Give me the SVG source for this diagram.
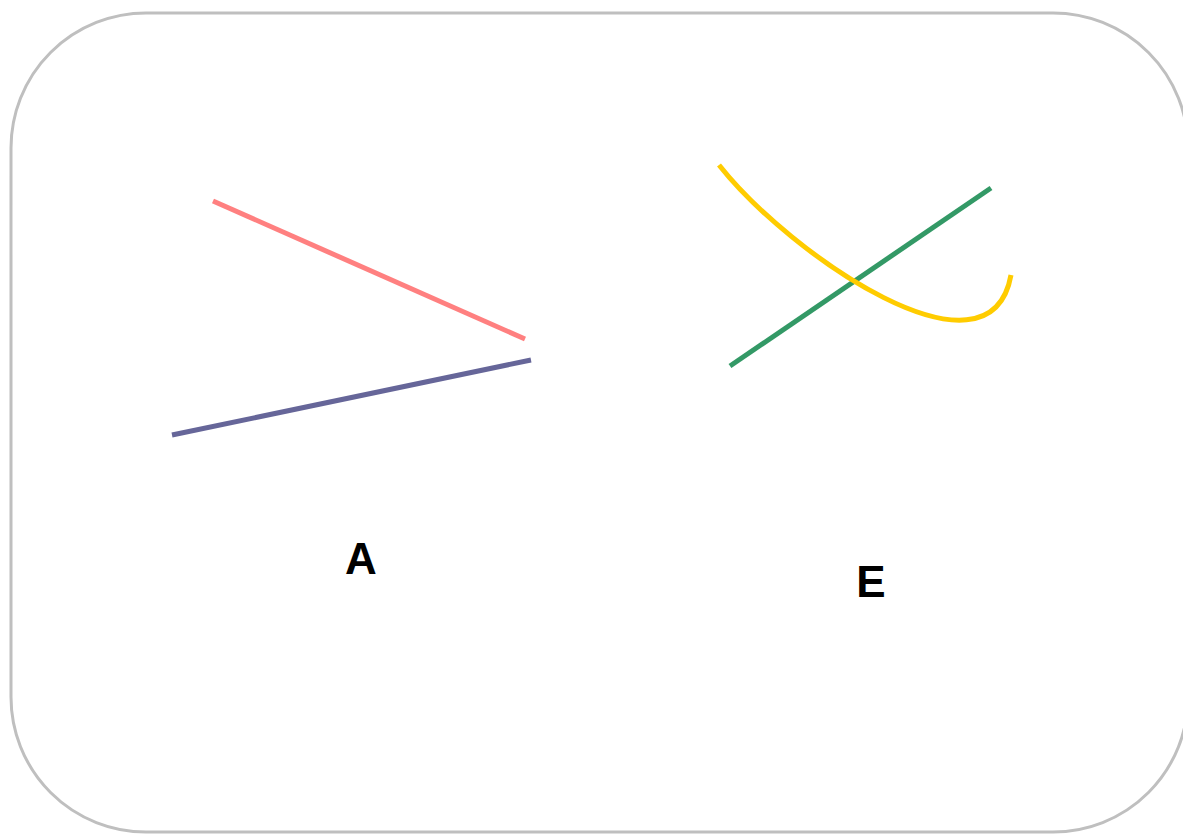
<svg xmlns="http://www.w3.org/2000/svg" width="1183" height="834" viewBox="0 0 1183 834">
<style>
.frame{fill:#ffffff;stroke:#bfbfbf;stroke-width:3}
.ln{fill:none;stroke-width:5}
.lbl{font-family:"Liberation Sans",Arial,sans-serif;font-weight:bold;font-size:44px;fill:#000;text-anchor:middle}
</style>
<rect x="0" y="0" width="1183" height="834" fill="#ffffff"/>
<g id="frame"><rect class="frame" x="11" y="13" width="1177" height="819" rx="135" ry="135"/></g>
<g id="connectors">
<line class="ln" x1="213" y1="201" x2="525" y2="339" stroke="#ff8080"/>
<line class="ln" x1="172" y1="435" x2="531" y2="360" stroke="#666699"/>
<line class="ln" x1="730" y1="366" x2="991" y2="188" stroke="#339966"/>
<path class="ln" d="M719,165 C790,255 990,392 1011,275" stroke="#ffcc00"/>
</g>
<g id="node-A"><text class="lbl" x="361" y="574">A</text></g>
<g id="node-E"><text class="lbl" x="871" y="597">E</text></g>
</svg>
